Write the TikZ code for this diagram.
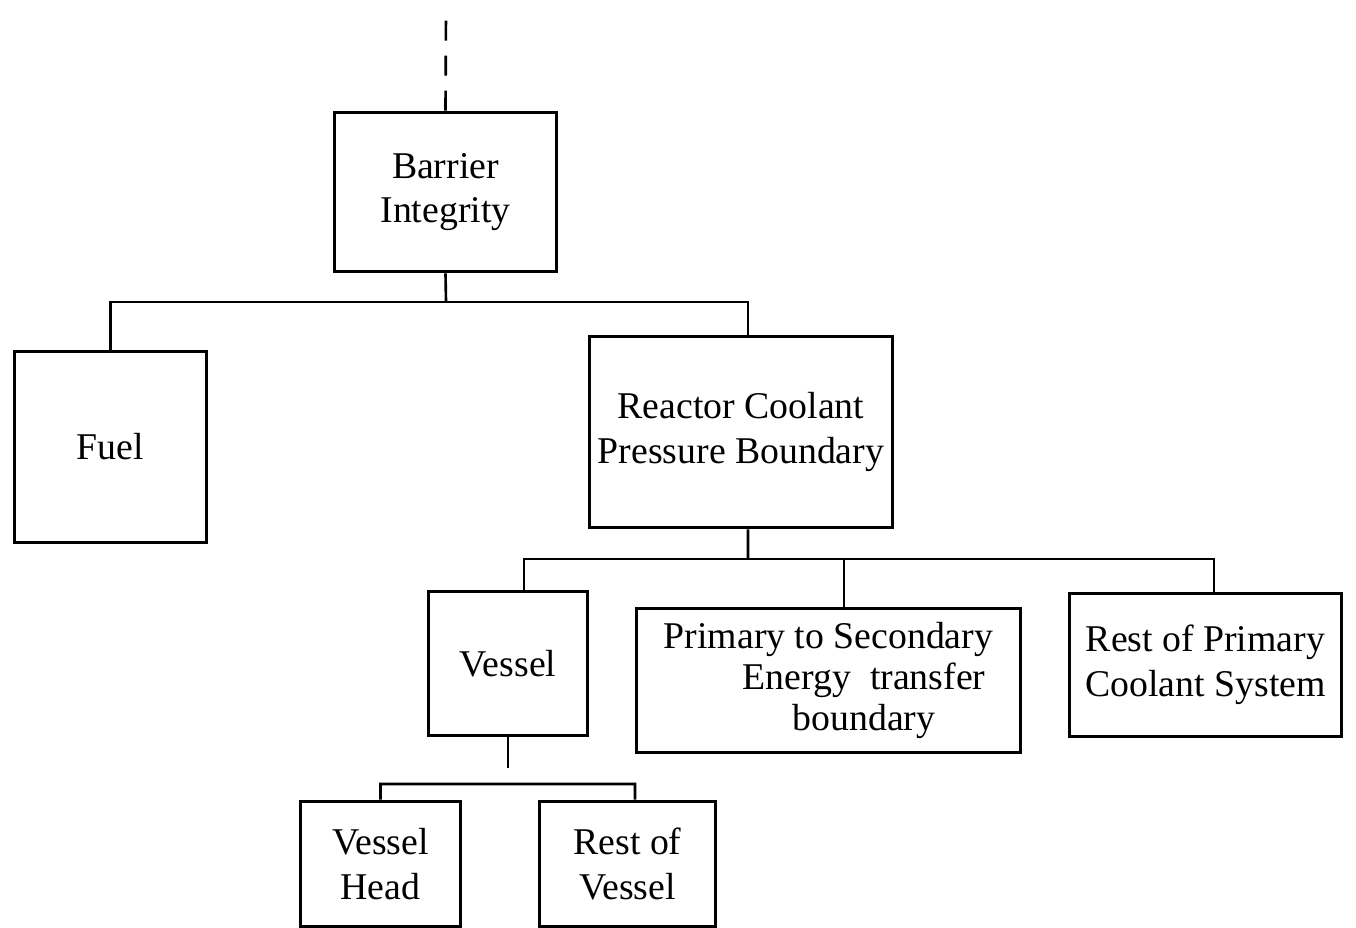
\documentclass[tikz,border=0pt]{standalone}
\usepackage{fontspec}
\setmainfont{Liberation Serif}
\usepackage{tikz}
\tikzstyle{block}=[draw,line width=1.7pt,inner sep=0pt,align=center,font=\fontsize{21.5}{25.5}\selectfont]
\tikzstyle{edge} = [draw,line width=1.5pt,-]
\tikzstyle{dashedge} = [draw,line width=1.5pt,dash pattern=on 0.4cm off 0.3cm]

\begin{document}
\begin{tikzpicture}[x=0.02cm,y=-0.02cm]
                    \path[use as bounding box] (0,0) rectangle (1356,928);

                    \node[block,minimum width=4.46cm,minimum height=3.2cm] (barrier) at (445.5,192) {Barrier\\Integrity};
                    \node[block,minimum width=3.86cm,minimum height=3.84cm] (fuel) at (110.5,447) {Fuel};
                    \node[block,minimum width=6.08cm,minimum height=3.84cm] (rcpb) at (741,432) {Reactor Coolant\\Pressure Boundary};
                    \node[block,minimum width=3.2cm,minimum height=2.9cm] (vessel) at (508,663.5) {Vessel};
                    \node[block,align=left,minimum width=7.7cm,minimum height=2.9cm,font=\fontsize{21.5}{23.3}\selectfont] (ptos) at (828.5,680.5)
                        {Primary to Secondary\\\hspace*{1.58cm}Energy\ \ transfer\\\hspace*{2.58cm}boundary};
                    \node[block,minimum width=5.46cm,minimum height=2.88cm] (restprim) at (1205.5,665) {Rest of Primary\\Coolant System};
                    \node[block,minimum width=3.22cm,minimum height=2.52cm] (vhead) at (380.5,864) {Vessel\\Head};
                    \node[block,minimum width=3.54cm,minimum height=2.52cm] (restves) at (627.5,864) {Rest of\\Vessel};

                    % junctions
                    \coordinate (top) at (446,10);
                    \coordinate (j1) at (446,302);
                    \coordinate (j2) at (748,559);
                    \coordinate (vtail) at (508,768);
                    \coordinate (j3) at (635,784);
                    \coordinate (rcpbtop) at ([xshift=0.14cm]rcpb.north);
                    \coordinate (rcpbbot) at ([xshift=0.14cm]rcpb.south);
                    \coordinate (ptostop) at ([xshift=0.31cm]ptos.north);

                    \path[dashedge] (barrier.north) -- (top);
                    \path[edge] (barrier.south) -- (j1);
                    \path[edge] (fuel.north) |- (j1) -| (rcpbtop);
                    \path[edge] (rcpbbot) -- (j2);
                    \path[edge] ([xshift=0.32cm]vessel.north) |- (j2) -| ([xshift=0.17cm]restprim.north);
                    \path[edge] (ptostop) -- (ptostop |- j2);
                    \path[edge] (vessel.south) -- (vtail);
                    \path[edge] (vhead.north) |- (j3) -- ([xshift=0.15cm]restves.north);
                \end{tikzpicture}
\end{document}
